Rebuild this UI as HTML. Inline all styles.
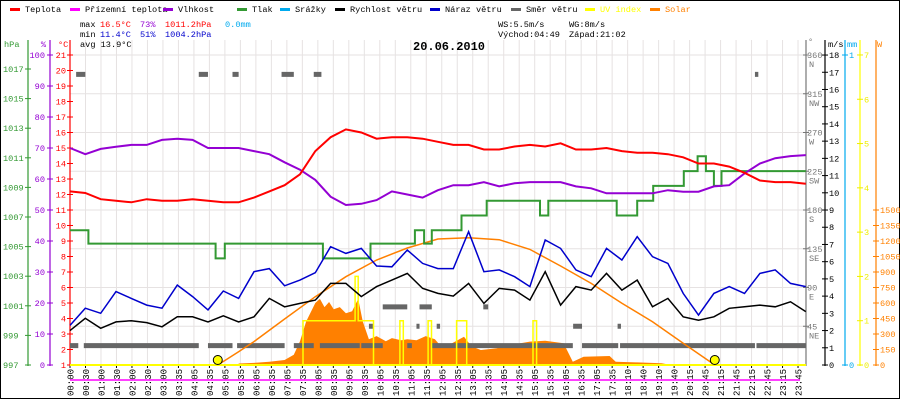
<!DOCTYPE html>
<html><head><meta charset="utf-8">
<style>
html,body{margin:0;padding:0;background:#fff;}
svg{display:block;}
text{font-family:"Liberation Mono",monospace;font-size:8.6px;}
</style></head>
<body>
<svg id="chart" width="900" height="400" viewBox="0 0 900 400" xmlns="http://www.w3.org/2000/svg">
<rect x="0.5" y="0.5" width="899" height="398" fill="#fff" stroke="#000"/>
<g id="grid"></g>
<g id="legend"></g>
<g>
<text x="80" y="27" fill="#000">max</text><text x="100" y="27" fill="#f00">16.5°C</text><text x="140" y="27" fill="#9400d3">73%</text><text x="165" y="27" fill="#f00">1011.2hPa</text><text x="225" y="27" fill="#00aaee">0.0mm</text>
<text x="80" y="37" fill="#000">min</text><text x="100" y="37" fill="#00c">11.4°C</text><text x="140" y="37" fill="#00c">51%</text><text x="165" y="37" fill="#00c">1004.2hPa</text>
<text x="80" y="47" fill="#000">avg 13.9°C</text>
<text x="498" y="27" fill="#000">WS:5.5m/s</text>
<text x="569" y="27" fill="#000">WG:8m/s</text>
<text x="498" y="37" fill="#000">Východ:04:49</text>
<text x="569" y="37" fill="#000">Západ:21:02</text>
</g>
<text x="413" y="50" style="font-size:12px;font-weight:bold">20.06.2010</text>
<g id="axes"></g>
<g id="series"></g>
</svg>
<script>
const tempValues=[12.2,12.1,11.7,11.6,11.5,11.7,11.6,11.6,11.7,11.6,11.5,11.5,11.8,12.2,12.6,13.3,14.8,15.7,16.2,16.0,15.6,15.7,15.7,15.6,15.4,15.2,15.2,14.9,14.9,15.1,15.2,15.1,15.3,14.9,14.9,15.0,14.8,14.7,14.7,14.6,14.4,14.0,14.0,13.8,13.4,12.9,12.8,12.8,12.7];
const humValues=[70,68,69.7,70.4,71,71,72.6,73,72.6,70,70,70,69,68,65.4,63,59.7,54.3,51.6,52,53.2,56,55,54,56.4,58,58,59,57.6,58.6,59,59,59,57.6,57,55.4,55.4,55.4,55.4,56.4,55.9,55.9,57.6,58,61.8,65,66.7,67.4,67.7];
const windValues=[2.0,2.71,2.13,2.5,2.57,2.46,2.22,2.8,2.8,2.5,2.86,2.5,2.8,3.87,3.38,3.58,3.77,4.74,4.74,3.97,4.55,4.93,5.32,4.45,4.16,4.0,4.74,3.58,4.45,4.35,3.77,5.42,3.48,4.55,4.35,5.32,4.35,4.93,3.38,3.87,2.8,2.6,2.8,3.29,3.38,3.48,3.38,3.67,3.1];
const gustValues=[2.3,3.3,3.0,4.26,3.87,3.48,3.3,4.64,3.97,3.2,4.3,3.87,5.42,5.6,4.6,4.93,5.36,6.87,6.48,6.77,5.75,5.7,6.68,5.9,5.6,5.6,7.74,5.42,5.52,5.13,4.55,7.26,6.77,5.52,5.13,6.77,6.1,7.45,6.29,5.9,4.16,2.9,4.16,4.55,4.16,5.32,5.52,4.74,4.55];
const pressureTimes=[0,0.6,4.75,5.05,8.25,9.8,11.25,11.55,11.8,12.77,13.59,15.33,15.6,17.83,18.5,19.02,20.02,20.47,20.74,21.0,21.25,24];
const pressureValues=[1006.1,1005.2,1004.2,1005.2,1004.2,1005.2,1006.1,1005.2,1006.1,1007.1,1008.1,1007.1,1008.1,1007.1,1008.1,1009.1,1010.1,1011.1,1010.1,1009.1,1010.1,1010.1];
const solarTimes=[5.5,6.0,6.5,7.0,7.3,7.5,7.7,8.0,8.15,8.3,8.45,8.6,8.8,9.0,9.2,9.4,9.55,9.75,10.0,10.3,10.5,10.8,11.0,11.3,11.6,11.9,12.1,12.4,12.7,12.85,13.1,13.4,13.9,14.5,15.0,15.5,16.1,16.4,16.75,17.6,17.8,18.5,19.3,19.6];
const solarValues=[15,20,32,48,100,230,420,600,640,560,610,540,560,500,520,640,420,250,280,230,260,240,250,240,280,250,180,200,250,274,180,145,161,200,226,235,210,32,80,87,32,25,16,0];
const theoTimes=[4.82,5.5,6,7,8,9,10,11,12,13,14,15,16,17,18,19,20,21.03];
const theoValues=[0,129,226,445,661,855,1016,1132,1219,1232,1213,1119,958,790,597,419,210,0];
const uvTimes=[0,7.6,9.3,9.4,9.9,10.76,10.87,11.68,11.79,12.61,12.94,15.1,15.22,24];
const uvValues=[0,1,2,1,0,1,0,1,0,1,0,1,0,0];
const dirStarts=[0,0.2,0.45,4.2,4.5,5.3,5.45,6.9,7.3,7.95,8.15,9.5,9.75,10.2,11.0,11.3,11.4,11.8,11.96,13.48,16.41,16.7,17.86,17.94,22.34,22.39];
const dirEnds=[0.27,0.5,4.2,4.5,5.3,5.5,7.0,7.3,7.95,8.2,9.45,10.2,9.9,11.0,11.15,11.4,11.8,16.4,12.07,13.64,16.7,17.88,17.97,22.34,22.45,24];
const dirValues=[22.5,337.5,22.5,337.5,22.5,337.5,22.5,337.5,22.5,337.5,22.5,22.5,45,67.5,22.5,45,67.5,22.5,45,67.5,45,22.5,45,22.5,337.5,22.5];
const sunTimes=[4.82,21.03];
const timeLabels=["00:00","00:30","01:00","01:30","02:00","02:30","03:00","03:35","04:05","04:35","05:05","05:35","06:05","06:35","07:05","07:35","08:05","08:35","09:05","09:35","10:05","10:35","11:05","11:35","12:05","12:35","13:05","13:35","14:05","14:35","15:05","15:35","16:05","16:35","17:05","17:35","18:10","18:40","19:10","19:40","20:15","20:45","21:15","21:45","22:15","22:45","23:15","23:45"];
const hpaTicks=[997,999,1001,1003,1005,1007,1009,1011,1013,1015,1017];
const humTicks=[0,10,20,30,40,50,60,70,80,90,100];
const tempTicks=[1,2,3,4,5,6,7,8,9,10,11,12,13,14,15,16,17,18,19,20,21];
const dirTicks=[45,90,135,180,225,270,315,360];
const dirNames=["NE","E","SE","S","SW","W","NW","N"];
const msTicks=[0,1,2,3,4,5,6,7,8,9,10,11,12,13,14,15,16,17,18];
const uvTicks=[0,1,2,3,4,5,6,7];
const wTicks=[0,150,300,450,600,750,900,1050,1200,1350,1500];

const NS="http://www.w3.org/2000/svg";
const xT=h=>70+h*60*0.511;
const yC=v=>365-(v-1)*15.5;
const yH=v=>365-v*3.1;
const yP=v=>365-(v-997)*14.8;
const yW=v=>365-v*17.22;
const yD=d=>365-d*0.8611;
const yS=w=>365-w*0.10333;
const yU=u=>365-u*44.29;
const halfHours=tempValues.map((_,i)=>i*0.5);

function mk(tag,attrs,parent){const e=document.createElementNS(NS,tag);for(const k in attrs)e.setAttribute(k,attrs[k]);parent.appendChild(e);return e;}
const grid=document.getElementById('grid'),axes=document.getElementById('axes'),series=document.getElementById('series'),legend=document.getElementById('legend');

timeLabels.forEach((lab,i)=>{const x=70+i*15.49;
 const l=mk('line',{x1:x,x2:x,y1:40,y2:365,stroke:'#e6e2e2','stroke-width':1},grid);
 
 
 mk('line',{x1:x,x2:x,y1:365,y2:368,stroke:'#000'},axes);
 const t=mk('text',{transform:`translate(${x+3.5},396) rotate(-90)`,fill:'#000',style:'font-size:9px'},axes);
 t.textContent=lab;
 
 
});
dirTicks.concat([0]).forEach(d=>{const y=yD(d);
 const l=mk('line',{x1:70,x2:806,y1:y,y2:y,stroke:'#e6e2e2'},grid);
 
 
});

const legItems=[["Teplota","#f00",10],["Přízemní teplota","#f0f",70],["Vlhkost","#9400d3",163],["Tlak","#393",237],["Srážky","#00aaee",280],["Rychlost větru","#000",335],["Náraz větru","#00c",430],["Směr větru","#666",511],["UV index","#ff0",585],["Solar","#ff8000",650]];
legItems.forEach(([n,c,x])=>{
 mk('rect',{x:x,y:8,width:10,height:3,fill:c},legend);
 const t=mk('text',{x:x+15,y:12,fill:(c=="#ff0"||c=="#ff8000")?c:'#000'},legend);
 t.textContent=n;
 
 
});

function vAxis(x,color,name){const l=mk('line',{x1:x,x2:x,y1:40,y2:366,stroke:color,'stroke-width':1.2},axes);
 
 }
vAxis(28,'#393','hpa-axis');vAxis(50,'#9400d3','humidity-axis');vAxis(70,'#f00','temperature-axis');
vAxis(806,'#777','direction-axis');vAxis(825,'#000','wind-axis');vAxis(845,'#00aaee','rain-axis');vAxis(860,'#ff0','uv-axis');vAxis(876,'#ff8000','solar-axis');
function lbl(x,y,s,c,anchor,name){const t=mk('text',{x:x,y:y,fill:c,'text-anchor':anchor||'start'},axes);t.textContent=s;
 
 return t;}
lbl(4,47,'hPa','#393','start','hpa-axis-title');lbl(46,47,'%','#9400d3','end','humidity-axis-title');lbl(58,47,'°C','#f00','start','temperature-axis-title');
lbl(808,44,'°','#777','start','direction-axis-title');lbl(828,47,'m/s','#000','start','wind-axis-title');lbl(847,47,'mm','#00aaee','start','rain-axis-title');lbl(877,47,'W','#ff8000','start','solar-axis-title');
hpaTicks.forEach(v=>{const y=yP(v);mk('line',{x1:25,x2:31,y1:y,y2:y,stroke:'#393'},axes);lbl(3,y+3,String(v),'#393','start','hpa-tick');});
humTicks.forEach(v=>{const y=yH(v);mk('line',{x1:47,x2:53,y1:y,y2:y,stroke:'#9400d3'},axes);lbl(45,y+3,String(v),'#9400d3','end','humidity-tick');});
tempTicks.forEach(v=>{const y=yC(v);mk('line',{x1:67,x2:73,y1:y,y2:y,stroke:'#f00'},axes);lbl(66,y+3,String(v),'#f00','end','temperature-tick');});
dirTicks.forEach((v,i)=>{const y=yD(v);mk('line',{x1:803,x2:809,y1:y,y2:y,stroke:'#777'},axes);lbl(807,y+3,String(v),'#777','start','direction-tick');lbl(809,y+12,dirNames[i],'#777','start','direction-name');});
msTicks.forEach(v=>{const y=yW(v);mk('line',{x1:822,x2:828,y1:y,y2:y,stroke:'#000'},axes);lbl(829,y+3,String(v),'#000','start','wind-tick');});
[[0,365],[1,55]].forEach(([v,y])=>{mk('line',{x1:842,x2:848,y1:y,y2:y,stroke:'#00aaee'},axes);lbl(849,y+3,String(v),'#00aaee','start','rain-tick');});
uvTicks.forEach(v=>{const y=yU(v);mk('line',{x1:857,x2:863,y1:y,y2:y,stroke:'#ee0'},axes);lbl(864,y+3,String(v),'#ee0','start','uv-tick');});
wTicks.forEach(v=>{const y=yS(v);mk('line',{x1:873,x2:879,y1:y,y2:y,stroke:'#ff8000'},axes);lbl(880,y+3,String(v),'#ff8000','start','solar-tick');});
const bl=mk('line',{x1:70,x2:806,y1:365,y2:365,stroke:'#000','stroke-width':1},axes);


const ap=mk('line',{x1:70,x2:800,y1:380,y2:380,stroke:'#f0f','stroke-width':1.5},axes);



function path(d,attrs,name){const p=mk('path',Object.assign({d:d,fill:'none'},attrs),series);
 
 return p;}
function linePath(ts,vs,yf){return ts.map((t,i)=>(i?'L':'M')+xT(t).toFixed(1)+','+yf(vs[i]).toFixed(1)).join('');}
function stepPath(ts,vs,yf){let d='';ts.forEach((t,i)=>{const x=xT(t).toFixed(1),y=yf(vs[i]).toFixed(1);
 if(i==0)d+='M'+x+','+y;else d+='L'+x+','+yf(vs[i-1]).toFixed(1)+'L'+x+','+y;});return d;}

let sd='M'+xT(solarTimes[0])+',365'+solarTimes.map((t,i)=>'L'+xT(t).toFixed(1)+','+yS(solarValues[i]).toFixed(1)).join('')+'L'+xT(solarTimes[solarTimes.length-1])+',365Z';
const sa=mk('path',{d:sd,fill:'#ff8000'},series);


dirValues.forEach((d,i)=>{const r=mk('rect',{x:xT(dirStarts[i]),y:yD(d)-2.5,width:Math.max(2,xT(dirEnds[i])-xT(dirStarts[i])),height:5,fill:'#666'},series);
 
 });
path(stepPath(uvTimes,uvValues,yU),{stroke:'#ff0','stroke-width':1.5},'uv-index-line');
path(linePath(theoTimes,theoValues,yS),{stroke:'#ff8000','stroke-width':1.5},'theoretical-solar-line');
path(stepPath(pressureTimes,pressureValues,yP),{stroke:'#393','stroke-width':2},'pressure-line');
path(linePath(halfHours,windValues,yW),{stroke:'#000','stroke-width':1.5},'wind-speed-line');
path(linePath(halfHours,gustValues,yW),{stroke:'#00c','stroke-width':1.5},'wind-gust-line');
path(linePath(halfHours,humValues,yH),{stroke:'#9400d3','stroke-width':2},'humidity-line');
path(linePath(halfHours,tempValues,yC),{stroke:'#f00','stroke-width':2},'temperature-line');
const yb=mk('line',{x1:70,x2:806,y1:365,y2:365,stroke:'#ff0','stroke-width':2},series);


sunTimes.forEach(t=>{const c=mk('circle',{cx:xT(t),cy:360,r:4.5,fill:'#ff0',stroke:'#000','stroke-width':1},series);
 
 });
</script>
</body></html>
